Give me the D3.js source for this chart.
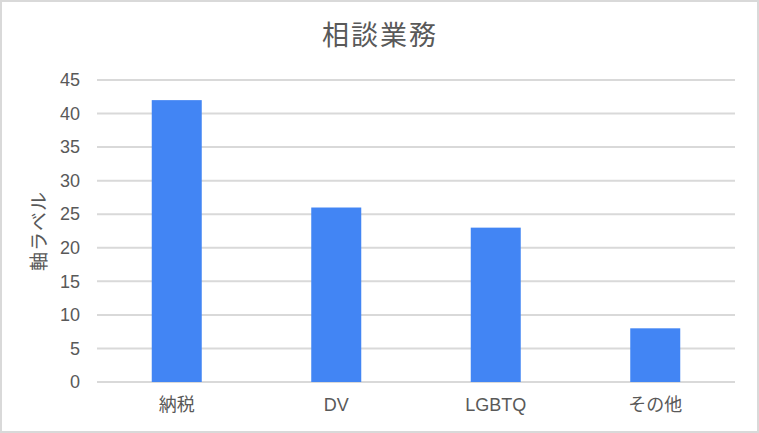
<!DOCTYPE html>
<html><head><meta charset="utf-8">
<script src="https://cdn.jsdelivr.net/npm/d3@7/dist/d3.min.js"></script>
<style>
html,body{margin:0;padding:0;background:#fff;}
svg{display:block;}
</style></head>
<body>
<script>
const title = "相談業務";
const yAxisLabel = "軸ラベル";
const categories = ["納税", "DV", "LGBTQ", "その他"];
const values = [42, 26, 23, 8];
const yTicks = [0, 5, 10, 15, 20, 25, 30, 35, 40, 45];

const W = 759, H = 433;
const margin = {left: 97, right: 24, top: 80, bottom: 51};
const FONT = "'Liberation Sans', Arial, 'Noto Sans CJK JP', sans-serif";
const textColor = "#595959";

const svg = d3.select("body").append("svg").attr("width", W).attr("height", H);

svg.append("rect").attr("x", 1).attr("y", 1).attr("width", W - 2).attr("height", H - 2)
  .attr("fill", "#fff").attr("stroke", "#d9d9d9").attr("stroke-width", 2);

const x = d3.scaleBand().domain(categories)
  .range([margin.left, W - margin.right])
  .paddingInner(0.6865).paddingOuter(0.6865 / 2);
const y = d3.scaleLinear().domain([0, 45]).range([H - margin.bottom, margin.top]);

// gridlines
svg.append("g").selectAll("line").data(yTicks).join("line")
  .attr("x1", margin.left).attr("x2", W - margin.right)
  .attr("y1", d => y(d)).attr("y2", d => y(d))
  .attr("stroke", "#d9d9d9").attr("stroke-width", 2);

// y tick labels
const yAxis = d3.axisLeft(y).tickValues(yTicks).tickSize(0).tickPadding(17);
const gy = svg.append("g").attr("transform", `translate(${margin.left},0)`).call(yAxis);
gy.select(".domain").remove();
gy.selectAll("text").attr("font-family", FONT).attr("font-size", 18).attr("fill", textColor);

// bars
svg.append("g").selectAll("rect").data(values).join("rect")
  .attr("x", (d, i) => x(categories[i]))
  .attr("width", x.bandwidth())
  .attr("y", d => y(d))
  .attr("height", d => y(0) - y(d))
  .attr("fill", "#4285f4");

// x axis labels
const xAxis = d3.axisBottom(x).tickSize(0).tickPadding(16);
const gx = svg.append("g").attr("transform", `translate(0,${y(0)})`).call(xAxis);
gx.select(".domain").remove();
gx.selectAll("text").attr("font-family", FONT).attr("font-size", 18).attr("fill", textColor);

// title
svg.append("text").attr("x", 380).attr("y", 45).attr("text-anchor", "middle")
  .attr("font-family", "'Noto Sans CJK JP', sans-serif").attr("font-size", 27)
  .attr("letter-spacing", 2)
  .attr("fill", textColor).text(title);

// y axis label
svg.append("text")
  .attr("transform", `translate(41,${(y(0) + y(45)) / 2}) rotate(-90)`)
  .attr("text-anchor", "middle").attr("dominant-baseline", "middle")
  .attr("font-family", "'Noto Sans CJK JP', sans-serif").attr("font-size", 19)
  .attr("letter-spacing", 1)
  .attr("fill", textColor).text(yAxisLabel);
</script>
</body></html>
